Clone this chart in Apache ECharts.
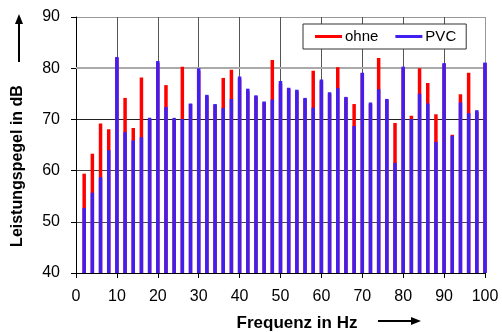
<!DOCTYPE html>
<html><head><meta charset="utf-8">
<script src="https://cdn.jsdelivr.net/npm/echarts@6/dist/echarts.min.js"></script>
<style>html,body{margin:0;padding:0;background:#fff}#c{width:502px;height:332px}</style>
</head><body><div id="c"></div>
<script>
const freqs = [2,4,6,8,10,12,14,16,18,20,22,24,26,28,30,32,34,36,38,40,42,44,46,48,50,52,54,56,58,60,62,64,66,68,70,72,74,76,78,80,82,84,86,88,90,92,94,96,98,100];
const ohne = [59.4,63.3,69.2,68.1,82.0,74.2,68.3,78.2,70.0,81.0,76.7,70.0,80.3,73.0,79.5,74.5,72.8,78.1,79.7,78.0,75.5,74.5,73.3,81.6,77.0,76.0,75.5,74.0,79.5,77.5,75.0,80.2,74.2,73.0,79.0,73.0,82.0,73.8,69.3,80.0,70.7,80.0,77.1,71.0,80.8,67.0,74.9,79.1,71.5,81.0];
const pvc = [52.7,55.7,58.7,64.0,82.2,67.5,65.9,66.5,70.3,81.4,72.4,70.3,70.1,73.1,80.0,74.8,73.0,72.2,74.0,78.4,76.0,74.7,73.5,73.9,77.5,76.2,75.8,74.2,72.3,77.8,75.3,76.1,74.4,68.7,79.1,73.3,75.9,74.0,61.5,80.3,70.1,75.0,73.1,65.6,81.0,66.8,73.3,71.2,71.8,81.1];
const xTicks = [0,10,20,30,40,50,60,70,80,90,100];
const yTicks = [40,50,60,70,80,90];
const seriesNames = ['ohne','PVC'];
const xTitle = 'Frequenz in Hz';
const yTitle = 'Leistungspegel in dB';

const FONT = '"Liberation Sans", Arial, sans-serif';
const chart = echarts.init(document.getElementById('c'), null, {renderer:'canvas'});
const pair = (xs, ys) => xs.map((x,i)=>[x, ys[i]]);
chart.setOption({
  animation:false,
  backgroundColor:'#fff',
  grid:{left:76, right:17, top:17, bottom:59, containLabel:false},
  legend:{
    data:seriesNames, left:303, top:24, orient:'horizontal',
    backgroundColor:'#fff', borderColor:'#333', borderWidth:1,
    padding:[5,10,5,12], itemGap:17, itemWidth:27, itemHeight:3, icon:'rect',
    textStyle:{fontFamily:FONT, fontSize:15, color:'#000', padding:[0,0,0,-2]}
  },
  xAxis:{
    type:'value', min:xTicks[0], max:xTicks[xTicks.length-1], interval:10,
    axisLine:{show:true, onZero:false, lineStyle:{color:'#000', width:1}},
    axisTick:{show:true, inside:false, length:5, lineStyle:{color:'#000'}},
    axisLabel:{fontFamily:FONT, fontSize:16, color:'#000', margin:16},
    splitLine:{show:true, lineStyle:{color:['#000','#555','#555','#555','#555','#555','#555','#555','#555','#555','#999'], width:1}}
  },
  yAxis:{
    type:'value', min:yTicks[0], max:yTicks[yTicks.length-1], interval:10,
    axisLine:{show:true, onZero:false, lineStyle:{color:'#000', width:1}},
    axisTick:{show:true, inside:false, length:5, lineStyle:{color:'#000'}},
    axisLabel:{fontFamily:FONT, fontSize:16, color:'#000', margin:16},
    splitLine:{show:true, lineStyle:{color:['#000','#444','#444','#222','#aaa','#999'], width:1}}
  },
  series:[
    {name:seriesNames[0], type:'bar', data:pair(freqs, ohne), barWidth:3.5, barGap:'-100%',
     itemStyle:{color:'#ff0000'}, z:2, clip:true,
     markLine:{silent:true, symbol:'none', label:{show:false}, lineStyle:{color:'#aaa', width:2, type:'solid'}, data:[{yAxis:80}], z:1}},
    {name:seriesNames[1], type:'bar', data:pair(freqs, pvc), barWidth:3.5, barGap:'-100%',
     itemStyle:{color:'#4020f0'}, z:3, clip:true}
  ],
  graphic:[
    {type:'text', x:18, y:166, rotation:Math.PI/2, style:{text:yTitle, font:'bold 16px '+FONT, fill:'#000', textAlign:'center', textVerticalAlign:'middle'}},
    {type:'line', shape:{x1:19, y1:62, x2:19, y2:22}, style:{stroke:'#000', lineWidth:2}},
    {type:'polygon', shape:{points:[[19,14],[15,24],[23,24]]}, style:{fill:'#000'}},
    {type:'text', x:297, y:323, style:{text:xTitle, font:'bold 17px '+FONT, fill:'#000', textAlign:'center', textVerticalAlign:'middle'}},
    {type:'line', shape:{x1:378, y1:321, x2:412, y2:321}, style:{stroke:'#000', lineWidth:2}},
    {type:'polygon', shape:{points:[[421,321],[411,317],[411,325]]}, style:{fill:'#000'}}
  ]
});
</script></body></html>
